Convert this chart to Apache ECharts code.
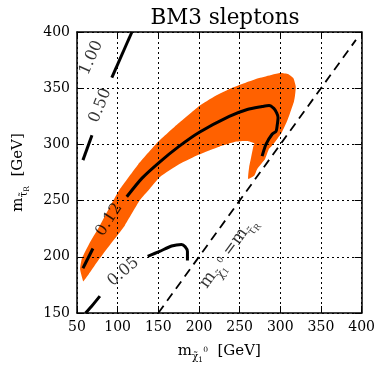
<!DOCTYPE html>
<html><head><meta charset="utf-8">
<script src="https://cdn.jsdelivr.net/npm/echarts@6/dist/echarts.min.js"></script>
<style>html,body{margin:0;padding:0;background:#fff}#c{width:378px;height:369px}</style>
</head><body><div id="c"></div>
<script>
// ---- data ----
const xTicks = [50, 100, 150, 200, 250, 300, 350, 400];
const yTicks = [150, 200, 250, 300, 350, 400];
// orange allowed region (polygon vertices, GeV)
const bandX = [57.7, 53.8, 56.1, 66, 78.1, 90, 102.6, 125, 148, 172, 200, 220, 241, 258, 274, 290, 300, 310, 316, 319, 318, 316.8, 312, 308.2, 302, 296, 290, 286, 281.3, 276.4, 271.5, 267.8, 260.5, 261.7, 264.2, 266.6, 268, 259, 246, 225, 200, 176, 152, 140, 127, 108.7, 93, 78, 64, 57.7];
const bandY = [178, 189, 198.6, 213, 227.7, 244, 260, 282, 301, 317, 334, 343, 350.3, 355, 359, 362, 363.5, 362.5, 359, 351.4, 343, 338.2, 328, 320.5, 310.8, 304.6, 299, 295.8, 287, 282.5, 278, 272, 269.3, 279.9, 288.7, 297.5, 301, 303, 302.5, 298, 291, 282.5, 271, 261, 250, 227.7, 213, 198.6, 184, 178];
// contour 0.12
const c012aX = [57.3, 69.6];
const c012aY = [189.8, 207.4];
const c012bX = [111.2, 130, 151.6, 175, 200.5, 237.2, 259.3, 277.6, 286.2, 292, 295.5, 297.2, 296, 294.8, 289.9, 282.5, 277.6];
const c012bY = [253.4, 270, 284.3, 298, 310.8, 324.9, 331.1, 333.7, 334.6, 332, 328, 324, 316, 311.7, 309, 300.2, 289.6];
// contour 0.05
const c005aX = [60.5, 68, 78.1];
const c005aY = [150, 156, 165];
const c005bX = [136.9, 151.6, 166.3, 178.5, 183, 185.8, 185.8];
const c005bY = [200.4, 204.8, 209.6, 211, 209, 204.8, 196.8];
// contour 0.50
const c050X = [57.3, 68.4];
const c050Y = [286, 308.1];
// contour 1.00
const c100X = [92.8, 117.5];
const c100Y = [359.4, 400];
// diagonal m_chi = m_stau
const diagX = [150, 393];
const diagY = [150, 393];
// contour labels
const labX = [67.6, 78.6, 89.5, 107, 238];
const labY = [377, 334.6, 233, 186.5, 202];
const labText = ['1.00', '0.50', '0.12', '0.05', '{m|m}{s|χ̃}{ss|1}{sp|0}{m| =m}{s|τ̃}{ss|R}'];
const labRot = [66, 68, 57, 40, 54];

// ---- chart ----
const FF = 'DejaVu Serif';
const chart = echarts.init(document.getElementById('c'), null, {renderer: 'canvas'});
const pairs = (xs, ys) => xs.map((x, i) => [x, ys[i]]);
const contour = (xs, ys, extra) => Object.assign({
  type: 'line', data: pairs(xs, ys), showSymbol: false, symbol: 'none', z: 10,
  lineStyle: {color: '#000', width: 3}, smooth: 0.25, animation: false, silent: true
}, extra || {});

const richSub = (base) => ({
  m: {fontSize: base, fontFamily: FF, color: '#000', verticalAlign: 'bottom', padding: [0, 0, base / 3, 0]},
  s: {fontSize: base * 0.7, fontFamily: FF, color: '#000', verticalAlign: 'bottom', padding: [0, 0, 1, 0]},
  ss: {fontSize: base * 0.5, fontFamily: FF, color: '#000', verticalAlign: 'bottom', padding: [0, 0, 0, 0]},
  sp: {fontSize: base * 0.5, fontFamily: FF, color: '#000', verticalAlign: 'bottom', padding: [0, 0, base * 0.66, 0]}
});

const axisCommon = {
  type: 'value', z: 5,
  axisLine: {show: true, lineStyle: {color: '#000', width: 1.5}},
  axisTick: {show: true, inside: true, length: 7, lineStyle: {color: '#000', width: 1}},
};

chart.setOption({
  animation: false,
  backgroundColor: '#fff',
  title: {text: 'BM3 sleptons', left: 220, textAlign: 'center', top: 2,
    textStyle: {fontFamily: FF, fontSize: 21.5, fontWeight: 'normal', color: '#000'}},
  grid: {left: 77, right: 15, top: 32, bottom: 54, containLabel: false},
  xAxis: [
    Object.assign({}, axisCommon, {
      min: 50, max: 400, interval: 50, position: 'bottom',
      axisLabel: {color: '#000', fontFamily: FF, fontSize: 14, margin: 7},
      splitLine: {show: true, lineStyle: {color: '#000', width: 1, type: [2, 3]}},
      name: '{m|m}{s|χ̃}{ss|1}{sp|0}{m|  [GeV]}', nameLocation: 'middle', nameGap: 31,
      nameTextStyle: {rich: richSub(15)}
    }),
    Object.assign({}, axisCommon, {
      min: 50, max: 400, interval: 50, position: 'top',
      axisLabel: {show: false}, splitLine: {show: false}
    })
  ],
  yAxis: [
    Object.assign({}, axisCommon, {
      min: 150, max: 400, interval: 50, position: 'left',
      axisLabel: {color: '#000', fontFamily: FF, fontSize: 14, margin: 7},
      splitLine: {show: true, lineStyle: {color: '#000', width: 1, type: [2, 3]}},
      name: '{m|m}{s|τ̃}{ss|R}{m|  [GeV]}', nameLocation: 'middle', nameGap: 46, nameRotate: 90,
      nameTextStyle: {rich: richSub(15)}
    }),
    Object.assign({}, axisCommon, {
      min: 150, max: 400, interval: 50, position: 'right',
      axisLabel: {show: false}, splitLine: {show: false}
    })
  ],
  series: [
    {
      type: 'custom', z: 1, silent: true, data: pairs(bandX, bandY),
      encode: {x: 0, y: 1},
      renderItem: function (params, api) {
        if (params.dataIndex !== 0) return null;
        const pts = bandX.map((x, i) => api.coord([x, bandY[i]]));
        return {type: 'polygon', shape: {points: pts, smooth: 0.15}, style: {fill: '#ff6100', stroke: null}};
      }
    },
    contour(c012aX, c012aY, {smooth: false}),
    contour(c012bX, c012bY),
    contour(c005aX, c005aY),
    contour(c005bX, c005bY),
    contour(c050X, c050Y, {smooth: false}),
    contour(c100X, c100Y, {smooth: false}),
    {
      type: 'line', data: pairs(diagX, diagY), showSymbol: false, symbol: 'none', z: 10, silent: true,
      lineStyle: {color: '#000', width: 1.8, type: [9, 6]}
    },
    {
      type: 'scatter', z: 11, silent: true, symbolSize: 0,
      data: labX.map((x, i) => ({value: [x, labY[i]], name: labText[i],
        label: {rotate: labRot[i]}})),
      label: {show: true, position: 'inside', formatter: p => p.name, color: '#000',
        fontFamily: FF, fontSize: 16, rich: richSub(17)}
    }
  ]
});
</script>
</body></html>
